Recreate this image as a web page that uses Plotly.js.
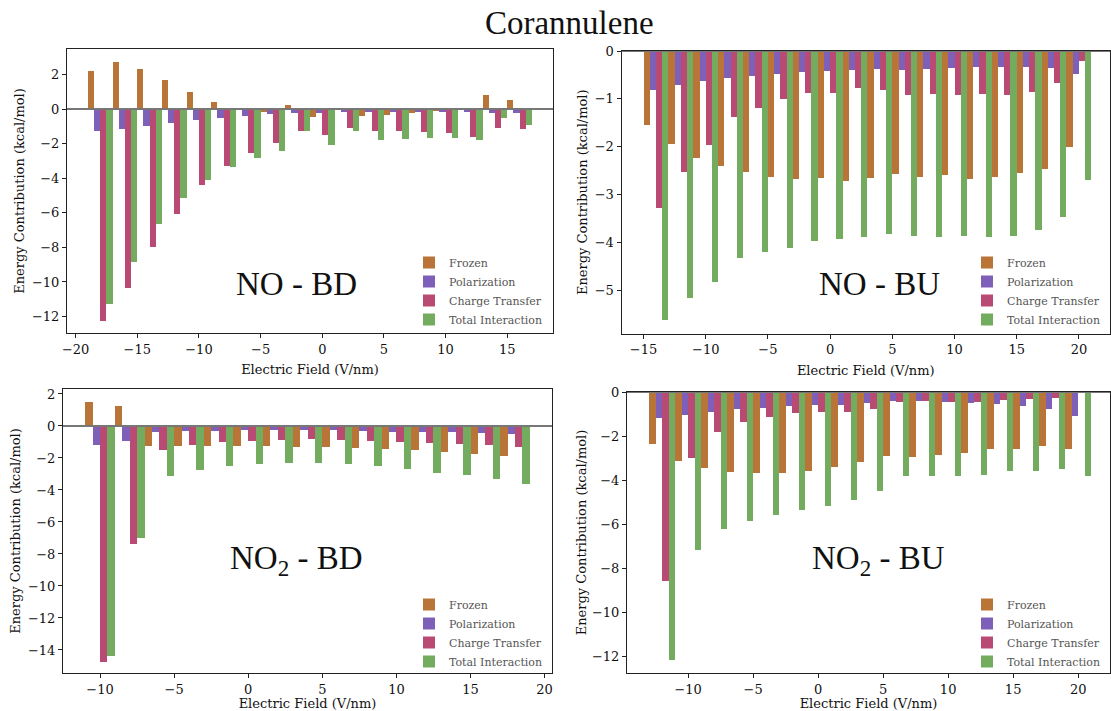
<!DOCTYPE html>
<html>
<head>
<meta charset="utf-8">
<script src="https://cdn.plot.ly/plotly-3.0.1.min.js"></script>
<style>html,body{margin:0;padding:0;background:#fff;}#chart{width:1111px;height:711px;}</style>
</head>
<body>
<div id="chart"></div>
<script>
// ---- Data ----
const seriesNames = ['Frozen', 'Polarization', 'Charge Transfer', 'Total Interaction'];
const panelLabels = ['NO - BD', 'NO - BU', 'NO<sub>2</sub> - BD', 'NO<sub>2</sub> - BU'];
const chartTitle = 'Corannulene';
const xAxisLabel = 'Electric Field (V/nm)';
const yAxisLabel = 'Energy Contribution (kcal/mol)';

// NO - BD
const noBdField = [-18, -16, -14, -12, -10, -8, -6, -4, -2, 0, 2, 4, 6, 8, 10, 12, 14, 16];
const noBdFrozen = [2.20, 2.72, 2.32, 1.68, 0.98, 0.41, 0.06, -0.15, 0.23, -0.44, -0.02, -0.39, -0.33, -0.21, -0.10, -0.02, 0.81, 0.52];
const noBdPolarization = [-1.25, -1.14, -0.97, -0.79, -0.62, -0.50, -0.39, -0.27, -0.21, -0.21, -0.15, -0.15, -0.15, -0.15, -0.15, -0.15, -0.21, -0.21];
const noBdChargeTransfer = [-12.26, -10.35, -7.97, -6.06, -4.38, -3.28, -2.53, -1.95, -1.25, -1.49, -1.08, -1.25, -1.25, -1.31, -1.37, -1.60, -1.08, -1.14];
const noBdTotal = [-11.27, -8.84, -6.62, -5.14, -4.09, -3.34, -2.82, -2.41, -1.25, -2.07, -1.25, -1.78, -1.72, -1.66, -1.66, -1.78, -0.50, -0.91];

// NO - BU
const noBuField = [-14, -12, -10, -8, -6, -4, -2, 0, 2, 4, 6, 8, 10, 12, 14, 16, 18, 20];
const noBuFrozen = [-1.54, -1.94, -2.23, -2.40, -2.52, -2.63, -2.67, -2.65, -2.71, -2.65, -2.57, -2.63, -2.59, -2.67, -2.63, -2.55, -2.46, -2.00];
const noBuPolarization = [-0.81, -0.70, -0.62, -0.56, -0.52, -0.47, -0.43, -0.41, -0.39, -0.37, -0.39, -0.37, -0.35, -0.33, -0.33, -0.33, -0.35, -0.47];
const noBuChargeTransfer = [-3.28, -2.52, -1.96, -1.37, -1.19, -1.00, -0.87, -0.87, -0.77, -0.81, -0.91, -0.89, -0.91, -0.89, -0.91, -0.85, -0.66, -0.20];
const noBuTotal = [-5.62, -5.16, -4.83, -4.32, -4.20, -4.11, -3.97, -3.93, -3.88, -3.82, -3.86, -3.88, -3.86, -3.88, -3.86, -3.74, -3.47, -2.69];

// NO2 - BD
const no2BdField = [-10, -8, -6, -4, -2, 0, 2, 4, 6, 8, 10, 12, 14, 16, 18];
const no2BdFrozen = [1.50, 1.25, -1.23, -1.23, -1.23, -1.23, -1.23, -1.29, -1.29, -1.35, -1.42, -1.48, -1.60, -1.73, -1.85];
const no2BdPolarization = [-1.19, -0.92, -0.35, -0.29, -0.29, -0.23, -0.23, -0.23, -0.23, -0.29, -0.35, -0.35, -0.35, -0.42, -0.48];
const no2BdChargeTransfer = [-14.73, -7.35, -1.48, -1.17, -0.98, -0.92, -0.85, -0.79, -0.85, -0.92, -0.98, -1.04, -1.10, -1.17, -1.29];
const no2BdTotal = [-14.38, -6.98, -3.10, -2.73, -2.48, -2.35, -2.29, -2.29, -2.35, -2.48, -2.67, -2.92, -3.04, -3.29, -3.60];

// NO2 - BU
const no2BuField = [-12, -10, -8, -6, -4, -2, 0, 2, 4, 6, 8, 10, 12, 14, 16, 18, 20];
const no2BuFrozen = [-2.38, -3.15, -3.47, -3.65, -3.70, -3.70, -3.61, -3.42, -3.20, -2.92, -2.97, -2.88, -2.79, -2.61, -2.61, -2.47, -2.61];
const no2BuPolarization = [-1.20, -1.06, -0.92, -0.79, -0.74, -0.65, -0.61, -0.61, -0.52, -0.42, -0.42, -0.47, -0.52, -0.56, -0.65, -0.79, -1.11];
const no2BuChargeTransfer = [-8.61, -3.02, -1.83, -1.38, -1.15, -0.97, -0.92, -0.92, -0.79, -0.47, -0.42, -0.47, -0.47, -0.38, -0.33, -0.29, -0.05];
const no2BuTotal = [-12.20, -7.20, -6.24, -5.88, -5.61, -5.38, -5.20, -4.92, -4.52, -3.83, -3.83, -3.83, -3.79, -3.61, -3.61, -3.52, -3.83];

// ---- Styling ----
const seriesColors = ['#b97438', '#7e60b8', '#b94a74', '#73ac5e'];
const serif = 'DejaVu Serif';
const times = 'Liberation Serif';

const panels = [
  {field: noBdField, series: [noBdFrozen, noBdPolarization, noBdChargeTransfer, noBdTotal]},
  {field: noBuField, series: [noBuFrozen, noBuPolarization, noBuChargeTransfer, noBuTotal]},
  {field: no2BdField, series: [no2BdFrozen, no2BdPolarization, no2BdChargeTransfer, no2BdTotal]},
  {field: no2BuField, series: [no2BuFrozen, no2BuPolarization, no2BuChargeTransfer, no2BuTotal]}
];

const W = 1111, H = 711;
// pixel boxes: [left, right, top, bottom]
const boxes = [
  [67, 553, 49, 333],
  [621.5, 1110, 51, 333.5],
  [63, 552, 389, 673],
  [627, 1110, 392, 673]
];
const xRanges = [[-20.7, 18.71], [-16.77, 22.5], [-12.5, 20.5], [-14.7, 22.45]];
const yRanges = [[-12.95, 3.47], [-5.9, 0], [-15.44, 2.31], [-12.77, 0]];
const yDticks = [2, 1, 2, 2];
const xTickVals = [[-20, -15, -10, -5, 0, 5, 10, 15], [-15, -10, -5, 0, 5, 10, 15, 20], [-10, -5, 0, 5, 10, 15, 20], [-10, -5, 0, 5, 10, 15, 20]];
const xStandoffs = [9, 9, 4, 4];
const yStandoffs = [4, 4, 4, 2];

const traces = [];
const layout = {
  width: W, height: H,
  margin: {l: 0, r: 0, t: 0, b: 0},
  paper_bgcolor: '#ffffff', plot_bgcolor: '#ffffff',
  barmode: 'group', bargap: 0, bargroupgap: 0,
  font: {family: serif, size: 13, color: '#111'},
  title: {text: chartTitle, font: {family: times, size: 33, color: '#111'}, x: 0.5124, xanchor: 'center', y: 1 - 22 / H, yanchor: 'middle', yref: 'container'},
  annotations: [],
  shapes: [],
  showlegend: true
};

const legendAnchors = [[548, 334], [1106, 334], [548, 676], [1106, 676]];
const labelCenters = [[296, 284], [879, 284], [296, 560], [878, 560]];

panels.forEach((p, i) => {
  const n = i + 1;
  const xa = n === 1 ? 'x' : 'x' + n;
  const ya = n === 1 ? 'y' : 'y' + n;
  const lg = n === 1 ? 'legend' : 'legend' + n;
  p.series.forEach((vals, s) => {
    traces.push({
      type: 'bar', x: p.field, y: vals, name: seriesNames[s],
      xaxis: xa, yaxis: ya, legend: lg,
      marker: {color: seriesColors[s], line: {width: 0}},
      hoverinfo: 'x+y+name'
    });
  });
  const b = boxes[i];
  const axCommon = {
    showline: true, linecolor: '#222', linewidth: 1, mirror: true,
    ticks: 'outside', ticklen: 4, tickwidth: 1, tickcolor: '#222',
    showgrid: false, zeroline: false,
    tickfont: {family: serif, size: 13, color: '#111'},
    automargin: false
  };
  layout['xaxis' + (n === 1 ? '' : n)] = Object.assign({}, axCommon, {
    domain: [b[0] / W, b[1] / W], range: xRanges[i], anchor: ya,
    tickmode: 'array', tickvals: xTickVals[i],
    title: {text: xAxisLabel, font: {family: serif, size: 13, color: '#111'}, standoff: xStandoffs[i]}
  });
  layout['yaxis' + (n === 1 ? '' : n)] = Object.assign({}, axCommon, {
    domain: [1 - b[3] / H, 1 - b[2] / H], range: yRanges[i], anchor: xa,
    dtick: yDticks[i], tick0: 0,
    title: {text: yAxisLabel, font: {family: serif, size: 13, color: '#111'}, standoff: yStandoffs[i]}
  });
  // zero reference line drawn above the bars
  layout.shapes.push({
    type: 'line', layer: 'above', xref: xa + ' domain', yref: ya,
    x0: 0, x1: 1, y0: 0, y1: 0, line: {color: '#777', width: 2}
  });
  layout.annotations.push({
    text: panelLabels[i], xref: 'paper', yref: 'paper',
    x: labelCenters[i][0] / W, y: 1 - labelCenters[i][1] / H,
    xanchor: 'center', yanchor: 'middle', showarrow: false,
    font: {family: times, size: 33, color: '#111'}
  });
  layout[lg] = {
    x: legendAnchors[i][0] / W, y: 1 - legendAnchors[i][1] / H,
    xanchor: 'right', yanchor: 'bottom',
    bgcolor: 'rgba(0,0,0,0)', borderwidth: 0,
    font: {family: serif, size: 11, color: '#555'},
    traceorder: 'normal', itemwidth: 30, tracegroupgap: 0
  };
});

Plotly.newPlot('chart', traces, layout, {displayModeBar: false, staticPlot: true});
</script>
</body>
</html>
